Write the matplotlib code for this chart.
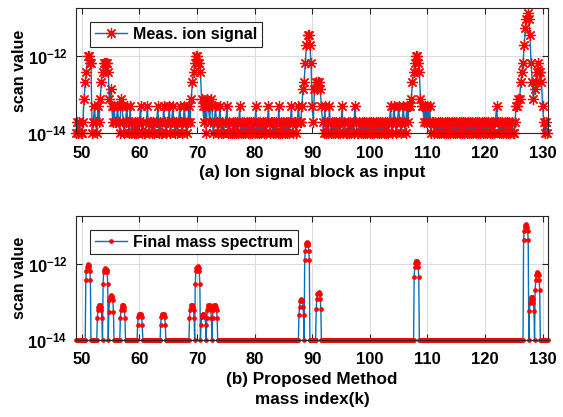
import numpy as np
import matplotlib
matplotlib.use('Agg')
import matplotlib.pyplot as plt
from matplotlib.ticker import FixedLocator, FixedFormatter, NullLocator

# ---- data ----
# (a) measured ion signal, one code per 0.2 mass units from 49.0 to 130.8
TOP_LEVELS = {'0': 1.0e-14, '1': 1.9e-14, '2': 4.9e-14, '3': 7.5e-14,
              '4': 1.4e-13, '5': 2.1e-13, '6': 3.8e-13, '7': 6.5e-13,
              '8': 1.0e-12, '9': 2.0e-12, 'a': 3.5e-12, 'b': 5.5e-12,
              'c': 9.0e-12, 'd': 1.3e-11}
TOP_CODES = [
    "01010 01356 88770 12102 13567 77763 42121 12103 21012 10201",  # 49-58
    "01010 12010 01201 10101 12010 02101 12012 10101 21012 10121",  # 59-68
    "35678 87763 21203 21320 12101 20101 12010 01010 10201 01010",  # 69-78
    "10101 02010 10101 01201 10101 02010 10101 01201 10121 12457",  # 79-88
    "9aa97 21454 55421 02010 20101 01010 12010 01010 10210 01010",  # 89-98
    "10101 01010 10101 01010 10120 12101 21012 10212 23567 88763",  # 99-108
    "22121 21201 10101 01010 10101 01010 10101 01010 10101 01010",  # 109-118
    "10101 01010 10101 21010 10101 01010 01223 35679 bcdca 75345",  # 119-128
    "67665 21010",                                                  # 129-130
]
TOP_X0, TOP_STEP = 49.0, 0.2

# (b) final mass spectrum: baseline plus peak profiles (9 samples, 0.1 apart)
BOT_BASE = 1e-14
PEAK_MASS = [51, 53, 54, 55, 57, 60, 64, 69, 70, 71, 72, 73,
             88, 89, 91, 108, 127, 128, 129]
PEAK_PROFILE = [
    [3.7e-13, 6.4e-13, 8.1e-13, 9.5e-13, 1.0e-12, 9.5e-13, 8.1e-13, 6.4e-13, 3.7e-13],
    [3.7e-14, 6.0e-14, 7.5e-14, 8.0e-14, 8.1e-14, 8.0e-14, 7.5e-14, 6.0e-14, 3.7e-14],
    [3.0e-13, 6.0e-13, 7.0e-13, 7.5e-13, 7.6e-13, 7.5e-13, 7.0e-13, 6.0e-13, 3.0e-13],
    [5.5e-14, 1.1e-13, 1.35e-13, 1.45e-13, 1.5e-13, 1.45e-13, 1.35e-13, 1.1e-13, 5.5e-14],
    [3.7e-14, 6.0e-14, 7.5e-14, 8.0e-14, 8.0e-14, 8.0e-14, 7.5e-14, 6.0e-14, 3.7e-14],
    [2.5e-14, 4.0e-14, 4.6e-14, 4.9e-14, 4.9e-14, 4.9e-14, 4.6e-14, 4.0e-14, 2.5e-14],
    [2.5e-14, 4.0e-14, 4.6e-14, 4.9e-14, 4.9e-14, 4.9e-14, 4.6e-14, 4.0e-14, 2.5e-14],
    [3.7e-14, 6.0e-14, 7.5e-14, 8.0e-14, 8.0e-14, 8.0e-14, 7.5e-14, 6.0e-14, 3.7e-14],
    [3.0e-13, 6.4e-13, 7.8e-13, 8.3e-13, 8.5e-13, 8.3e-13, 7.8e-13, 6.4e-13, 3.0e-13],
    [2.5e-14, 4.0e-14, 4.6e-14, 4.9e-14, 4.9e-14, 4.9e-14, 4.6e-14, 4.0e-14, 2.5e-14],
    [3.7e-14, 6.0e-14, 7.5e-14, 8.0e-14, 8.0e-14, 8.0e-14, 7.5e-14, 6.0e-14, 3.7e-14],
    [3.7e-14, 6.0e-14, 7.5e-14, 8.0e-14, 8.0e-14, 8.0e-14, 7.5e-14, 6.0e-14, 3.7e-14],
    [4.5e-14, 7.4e-14, 1.05e-13, 1.15e-13, 1.2e-13, 1.15e-13, 1.05e-13, 7.4e-14, 4.5e-14],
    [1.27e-12, 2.2e-12, 3.2e-12, 3.6e-12, 3.7e-12, 3.6e-12, 3.2e-12, 2.2e-12, 1.27e-12],
    [6.6e-14, 1.2e-13, 1.6e-13, 1.75e-13, 1.8e-13, 1.75e-13, 1.6e-13, 1.2e-13, 6.6e-14],
    [4.5e-13, 8.2e-13, 1.05e-12, 1.15e-12, 1.2e-12, 1.15e-12, 1.05e-12, 8.2e-13, 4.5e-13],
    [4.2e-12, 7.4e-12, 9.5e-12, 1.05e-11, 1.1e-11, 1.05e-11, 9.5e-12, 7.4e-12, 4.2e-12],
    [5.8e-14, 9.4e-14, 1.2e-13, 1.3e-13, 1.34e-13, 1.3e-13, 1.2e-13, 9.4e-14, 5.8e-14],
    [2.1e-13, 3.7e-13, 5.0e-13, 5.8e-13, 6.0e-13, 5.8e-13, 5.0e-13, 3.7e-13, 2.1e-13],
]

X_TICKS = [50, 60, 70, 80, 90, 100, 110, 120, 130]
Y_TICKS = [1e-14, 1e-12]
Y_TICKLABELS = [r'$\mathbf{10^{-14}}$', r'$\mathbf{10^{-12}}$']

# ---- build series ----
codes = ''.join(''.join(row.split()) for row in TOP_CODES)
y_top = np.array([TOP_LEVELS[c] for c in codes])
x_top = TOP_X0 + TOP_STEP * np.arange(len(y_top))

x_bot = np.round(np.arange(49.0, 130.95, 0.1), 1)
y_bot = np.full(len(x_bot), BOT_BASE)
for m, prof in zip(PEAK_MASS, PEAK_PROFILE):
    i0 = int(round((m - 0.3 - 49.0) / 0.1))
    y_bot[i0:i0 + len(prof)] = prof

# ---- style ----
plt.rcParams.update({
    'font.family': ['Liberation Sans', 'DejaVu Sans'],
    'font.weight': 'bold',
    'font.size': 12,
    'mathtext.fontset': 'custom',
    'mathtext.rm': 'Liberation Sans',
    'mathtext.bf': 'Liberation Sans:bold',
    'axes.linewidth': 0.8,
})
BLUE = '#0072BD'
AX_COLOR = '#262626'

fig = plt.figure(figsize=(5.63, 4.17), dpi=100)
ax1 = fig.add_axes([0.135, 0.681, 0.838, 0.300])
ax2 = fig.add_axes([0.135, 0.185, 0.838, 0.297])

ax1.plot(x_top, y_top, color=BLUE, linewidth=1.0,
         marker=(8, 2, 0), markersize=8, markeredgewidth=0.9,
         markeredgecolor='red', markerfacecolor='red',
         label='Meas. ion signal', clip_on=False)
ax2.plot(x_bot, y_bot, color=BLUE, linewidth=1.0,
         marker='o', markersize=3.4, markeredgewidth=0,
         markerfacecolor='red', label='Final mass spectrum', clip_on=False)

for ax in (ax1, ax2):
    ax.set_yscale('log')
    ax.set_xlim(49, 130.9)
    ax.set_ylim(1e-14, 1.8e-11)
    ax.xaxis.set_major_locator(FixedLocator(X_TICKS))
    ax.yaxis.set_major_locator(FixedLocator(Y_TICKS))
    ax.yaxis.set_major_formatter(FixedFormatter(Y_TICKLABELS))
    ax.yaxis.set_minor_locator(NullLocator())
    ax.tick_params(direction='in', top=True, right=True, length=4,
                   color=AX_COLOR, labelsize=12)
    ax.tick_params(axis='x', pad=9)
    ax.tick_params(axis='y', pad=6)
    for lab in ax.get_xticklabels():
        lab.set_fontweight('bold')
    ax.grid(True, color='#dcdcdc', linewidth=0.8)
    ax.set_axisbelow(True)
    for sp in ax.spines.values():
        sp.set_color(AX_COLOR)
    ax.set_ylabel('scan value', fontsize=11.5, fontweight='bold', labelpad=0)
    leg = ax.legend(loc='upper left', bbox_to_anchor=(0.03, 0.888),
                    fancybox=False, framealpha=1, edgecolor=AX_COLOR,
                    borderpad=0.3, handlelength=2.0, handletextpad=0.4,
                    borderaxespad=0, prop={'weight': 'bold', 'size': 11.5})
    leg.get_frame().set_linewidth(0.8)

ax1.set_xlabel('(a) Ion signal block as input', fontsize=12.3,
               fontweight='bold', labelpad=3)
ax2.set_xlabel('(b) Proposed Method\nmass index(k)', fontsize=12.3,
               fontweight='bold', labelpad=3, linespacing=1.45)

fig.savefig('out.png', dpi=100)
